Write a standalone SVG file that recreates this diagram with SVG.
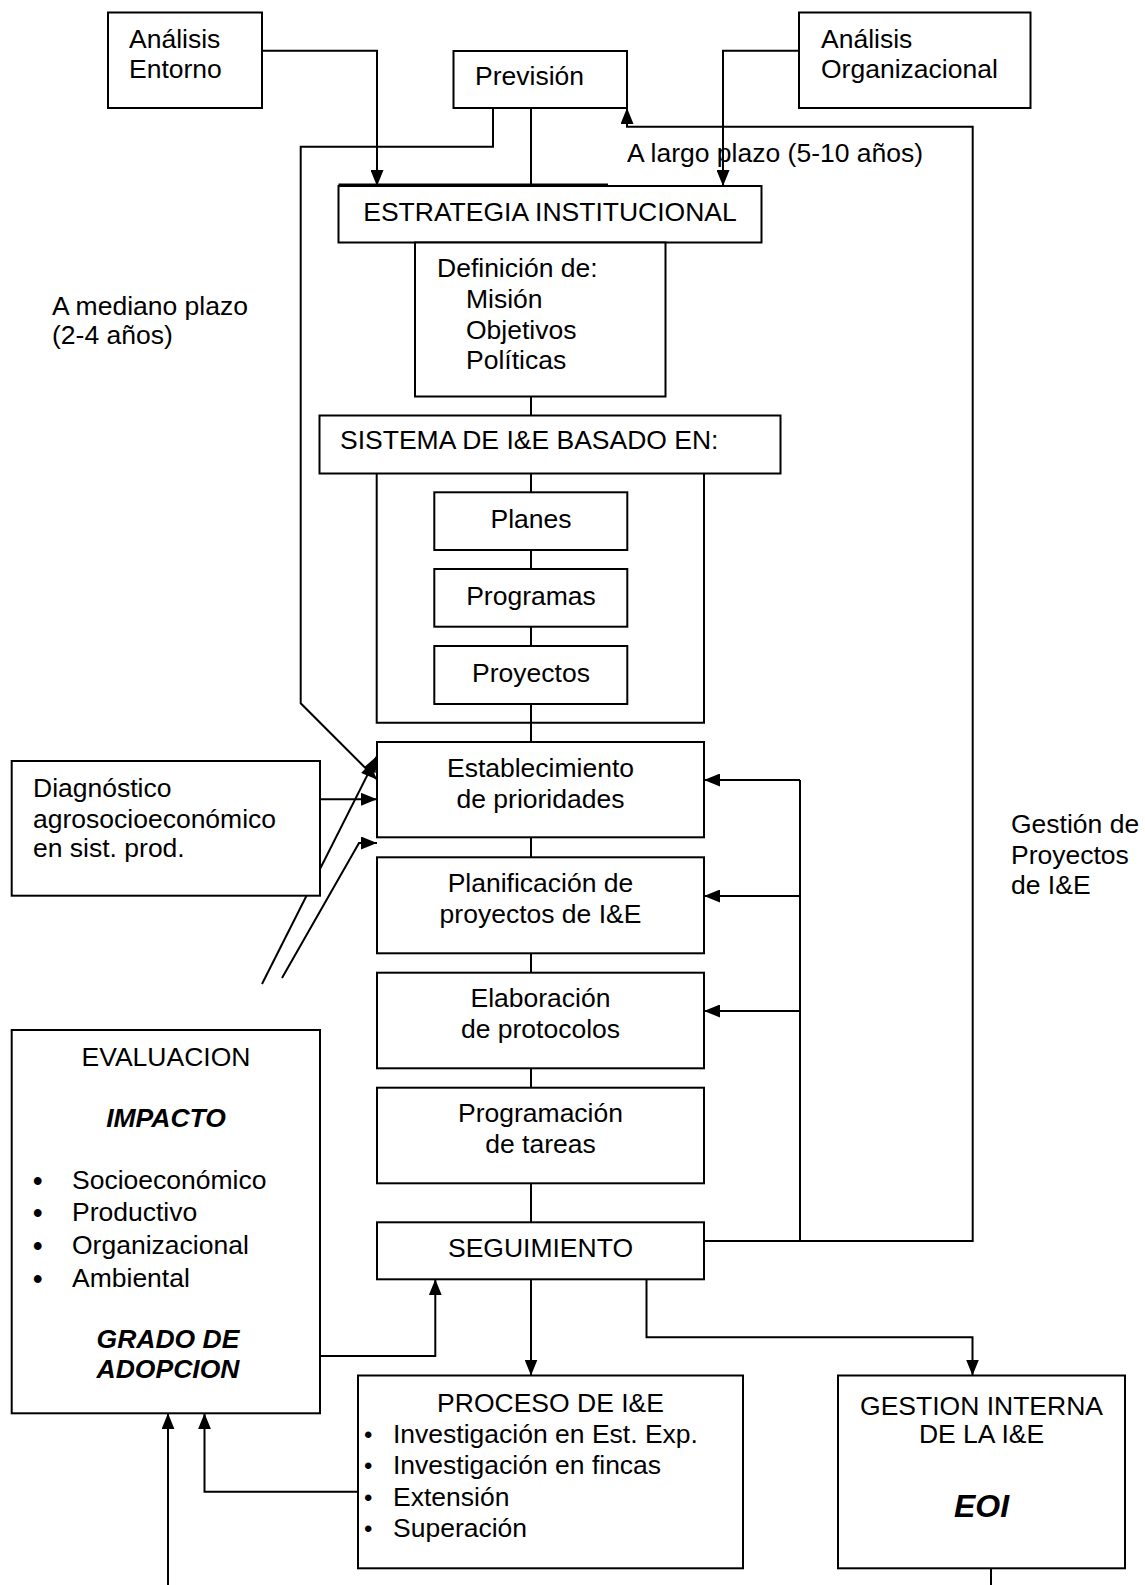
<svg xmlns="http://www.w3.org/2000/svg" width="1145" height="1585" viewBox="0 0 1145 1585">
<style>
.b{fill:#fff;stroke:#000;stroke-width:2}
.c{fill:none;stroke:#000;stroke-width:2}
.a{marker-end:url(#ah)}
text{font-family:"Liberation Sans",Arial,sans-serif;font-size:26.5px;fill:#000}
.m{text-anchor:middle}
.bi{font-weight:bold;font-style:italic}
.bl{font-size:27px;font-weight:bold}
.bs{font-size:24px}
</style>
<defs>
<marker id="ah" markerWidth="16" markerHeight="13" refX="16" refY="6.5" orient="auto" markerUnits="userSpaceOnUse"><path d="M0,0 L16,6.5 L0,13 z" fill="#000"/></marker>
</defs>
<rect width="1145" height="1585" fill="#fff"/>
<g id="connectors">
<path class="c a" d="M262,50.7 H377 V186"/>
<path class="c a" d="M799,50.7 H723 V186"/>
<path class="c a" d="M493,108 V146.7 H300.7 V703.3 L377,779.6"/>
<path class="c" d="M531,108 V185"/>
<path class="c" d="M338.5,184.5 H608"/>
<path class="c a" d="M704,1241 H972.7 V126.7 H627 V108"/>
<path class="c" d="M800,780 V1241"/>
<path class="c a" d="M800,780 H704"/>
<path class="c a" d="M800,896 H704"/>
<path class="c a" d="M800,1011 H704"/>
<path class="c" d="M531,396.5 V415.5 M531,473.5 V492.3 M531,550 V569 M531,626.7 V646 M531,704 V722.7 M531,722.7 V742 M531,837.3 V857.3 M531,953.3 V972.7 M531,1068.3 V1087.7 M531,1183.3 V1222.3"/>
<path class="c" d="M376.7,473.5 V722.7 H704 V473.5"/>
<path class="c a" d="M320,799.3 H377"/>
<path class="c a" d="M262,984 L377,756"/>
<path class="c a" d="M282,978 L359,843 H377"/>
<path class="c a" d="M531,1279.3 V1375.5"/>
<path class="c a" d="M646.5,1279.3 V1337.3 H972.5 V1375.5"/>
<path class="c a" d="M320,1356 H435.3 V1279.3"/>
<path class="c a" d="M358,1491.7 H204.5 V1413.3"/>
<path class="c a" d="M168,1585 V1413.3"/>
<path class="c" d="M991,1568.3 V1585"/>
</g>
<g id="n-entorno"><rect class="b" x="108" y="12.5" width="154" height="95.5"/><text x="129" y="48">Análisis</text><text x="129" y="78">Entorno</text></g>
<g id="n-prevision"><rect class="b" x="453.5" y="51" width="173.5" height="57"/><text x="475" y="85">Previsión</text></g>
<g id="n-organizacional"><rect class="b" x="799" y="12.5" width="231.5" height="95.5"/><text x="821" y="48">Análisis</text><text x="821" y="78">Organizacional</text></g>
<g id="l-largo"><text x="627" y="162">A largo plazo (5-10 años)</text></g>
<g id="n-estrategia"><rect class="b" x="338.5" y="186" width="423" height="56.5"/><text class="m" x="550" y="221">ESTRATEGIA INSTITUCIONAL</text></g>
<g id="n-definicion"><rect class="b" x="415" y="242.5" width="250.5" height="154"/><text x="437" y="277">Definición de:</text><text x="466" y="308">Misión</text><text x="466" y="339">Objetivos</text><text x="466" y="369">Políticas</text></g>
<g id="l-mediano"><text x="52" y="315">A mediano plazo</text><text x="52" y="344">(2-4 años)</text></g>
<g id="n-sistema"><rect class="b" x="319.5" y="415.5" width="461" height="58"/><text x="340" y="449">SISTEMA DE I&amp;E BASADO EN:</text></g>
<g id="n-planes"><rect class="b" x="434.3" y="492.3" width="193" height="57.7"/><text class="m" x="531" y="528">Planes</text></g>
<g id="n-programas"><rect class="b" x="434.3" y="569" width="193" height="57.7"/><text class="m" x="531" y="605">Programas</text></g>
<g id="n-proyectos"><rect class="b" x="434.3" y="646" width="193" height="58"/><text class="m" x="531" y="682">Proyectos</text></g>
<g id="n-establecimiento"><rect class="b" x="377" y="742" width="327" height="95.3"/><text class="m" x="540.5" y="777">Establecimiento</text><text class="m" x="540.5" y="808">de prioridades</text></g>
<g id="n-planificacion"><rect class="b" x="377" y="857.3" width="327" height="96"/><text class="m" x="540.5" y="892">Planificación de</text><text class="m" x="540.5" y="923">proyectos de I&amp;E</text></g>
<g id="n-elaboracion"><rect class="b" x="377" y="972.7" width="327" height="95.6"/><text class="m" x="540.5" y="1007">Elaboración</text><text class="m" x="540.5" y="1038">de protocolos</text></g>
<g id="n-programacion"><rect class="b" x="377" y="1087.7" width="327" height="95.6"/><text class="m" x="540.5" y="1122">Programación</text><text class="m" x="540.5" y="1153">de tareas</text></g>
<g id="n-seguimiento"><rect class="b" x="377" y="1222.3" width="327" height="57"/><text class="m" x="540.5" y="1257">SEGUIMIENTO</text></g>
<g id="l-gestion"><text x="1011" y="833">Gestión de</text><text x="1011" y="864">Proyectos</text><text x="1011" y="894">de I&amp;E</text></g>
<g id="n-diagnostico"><rect class="b" x="11.7" y="761" width="308.3" height="134.7"/><text x="33" y="797">Diagnóstico</text><text x="33" y="828">agrosocioeconómico</text><text x="33" y="857">en sist. prod.</text></g>
<g id="n-evaluacion"><rect class="b" x="11.7" y="1030" width="308.3" height="383.3"/>
<text class="m" x="166" y="1066">EVALUACION</text>
<text class="m bi" x="166" y="1127">IMPACTO</text>
<text class="bl" x="33" y="1190">•</text><text x="72" y="1189">Socioeconómico</text>
<text class="bl" x="33" y="1222">•</text><text x="72" y="1221">Productivo</text>
<text class="bl" x="33" y="1255">•</text><text x="72" y="1254">Organizacional</text>
<text class="bl" x="33" y="1288">•</text><text x="72" y="1287">Ambiental</text>
<text class="m bi" x="168" y="1348">GRADO DE</text>
<text class="m bi" x="168" y="1378">ADOPCION</text></g>
<g id="n-proceso"><rect class="b" x="358" y="1375.5" width="385" height="192.8"/>
<text class="m" x="550.5" y="1412">PROCESO DE I&amp;E</text>
<text class="bs" x="364" y="1443">•</text><text x="393" y="1443">Investigación en Est. Exp.</text>
<text class="bs" x="364" y="1474">•</text><text x="393" y="1474">Investigación en fincas</text>
<text class="bs" x="364" y="1506">•</text><text x="393" y="1506">Extensión</text>
<text class="bs" x="364" y="1537">•</text><text x="393" y="1537">Superación</text></g>
<g id="n-gestion-interna"><rect class="b" x="838" y="1375.5" width="287" height="192.8"/>
<text class="m" x="981.5" y="1415">GESTION INTERNA</text>
<text class="m" x="981.5" y="1443">DE LA I&amp;E</text>
<text class="m bi" x="981.5" y="1517" style="font-size:32px">EOI</text></g>
</svg>
